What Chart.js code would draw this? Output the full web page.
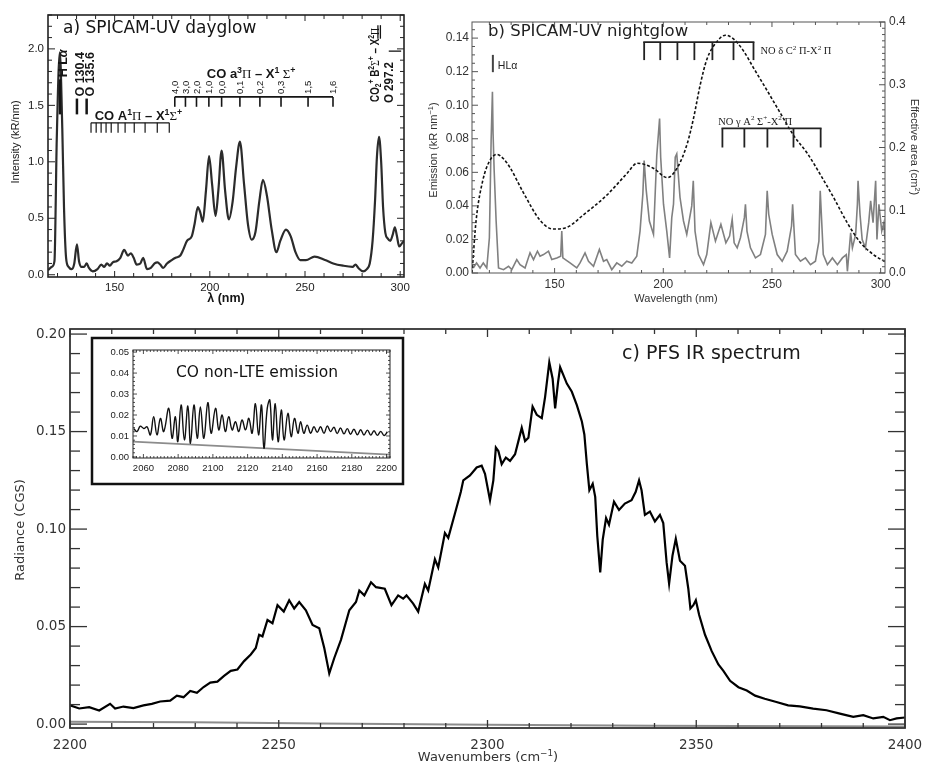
<!DOCTYPE html>
<html>
<head>
<meta charset="utf-8">
<script src="https://cdn.jsdelivr.net/npm/chart.js@4.4.1/dist/chart.umd.min.js"></script>
<style>
  html, body { margin: 0; padding: 0; background: #fff; }
  #wrap { position: relative; width: 927px; height: 768px; overflow: hidden; }
  #wrap canvas { position: absolute; left: 0; top: 0; }
</style>
</head>
<body>
<div id="wrap">
  <canvas id="cvA" width="927" height="768"></canvas>
  <canvas id="cvB" width="927" height="768"></canvas>
  <canvas id="cvC" width="927" height="768"></canvas>
  <canvas id="cvD" width="927" height="768"></canvas>
</div>
<script>
// ---- a) SPICAM-UV dayglow ----
const A_WAVELENGTH = [
  115, 117, 118.4, 119.6, 121.2, 122.5, 123.4, 124.5, 125.8, 127.5,
  128.8, 130.2, 131.3, 132.6, 134, 135.3, 136.5, 138.5, 141, 143,
  144.5, 146, 147.5, 149, 151, 153, 155, 157, 158.5, 160,
  161.6, 163.5, 165, 167, 169, 171, 172.5, 174, 175.5, 177.5,
  180, 182, 184.5, 186, 188, 190.5, 192, 193.7, 195, 196.3,
  198, 199.6, 201.2, 203, 204.5, 206.2, 208, 210, 212, 213.8,
  215.8, 218, 220, 222, 224, 226, 227.9, 230, 232.5, 235,
  237, 240, 242.5, 245, 247.5, 250.5, 255, 260.5, 264.8, 270,
  275, 276.5, 278, 280.5, 282.5, 284, 285.5, 286.8, 287.8, 288.9,
  290, 291, 292.2, 293.5, 294.8, 296, 297.2, 298.2, 299.5, 301,
  302];
const A_INTENSITY = [
  0.04, 0.07, 0.12, 1.2, 1.97, 1.3, 0.6, 0.15, 0.07, 0.05,
  0.1, 0.27, 0.12, 0.07, 0.07, 0.1, 0.06, 0.03, 0.05, 0.09,
  0.07, 0.1, 0.08, 0.11, 0.12, 0.15, 0.22, 0.17, 0.19, 0.15,
  0.09, 0.1, 0.15, 0.05, 0.06, 0.1, 0.11, 0.09, 0.06, 0.1,
  0.13, 0.15, 0.17, 0.22, 0.3, 0.34, 0.45, 0.6, 0.55, 0.47,
  0.75, 1.05, 0.8, 0.52, 0.75, 1.1, 0.75, 0.49, 0.65, 0.95,
  1.18, 0.8, 0.45, 0.31, 0.38, 0.65, 0.84, 0.7, 0.4, 0.2,
  0.3, 0.4, 0.34, 0.2, 0.13, 0.13, 0.16, 0.13, 0.1, 0.08,
  0.07, 0.09, 0.06, 0.03, 0.05, 0.1, 0.3, 0.66, 1.05, 1.22,
  1.0, 0.6, 0.37, 0.32, 0.3, 0.35, 0.42, 0.35, 0.25, 0.28,
  0.3];
const A_X_TICKS = [150, 200, 250, 300];
const A_Y_TICKS = [0, 0.5, 1.0, 1.5, 2.0];
const A_ATOM_LINES = [121.3, 130.2, 135.3];
const A_CO4P_BANDS = [137.6, 140.3, 142.9, 145.5, 148.2, 151.8, 155.5, 160.3, 166, 172.4, 178.7];
const A_COCAM_BANDS = [181.6, 187.2, 193, 199.5, 206.2, 215.8, 226.3, 237.4, 251.6, 264.7];
const A_COCAM_LABELS = ['4,0', '3,0', '2,0', '1,0', '0,0', '0,1', '0,2', '0,3', '1,5', '1,6'];
const A_CO2P_LINES = [288.3, 289.6];

// ---- b) SPICAM-UV nightglow ----
const B_EMIS_WL = [
  112.6, 114.1, 115.7, 117.2, 118.8, 120.0, 120.8, 121.4, 121.7, 122.2,
  123.1, 124.2, 126.5, 128.8, 130.3, 132.6, 134.1, 136.4, 138.7, 140.3,
  142.1, 143.3, 144.9, 147.2, 148.7, 151, 152.8, 153.3, 153.8, 157.1,
  160.2, 161.7, 164, 165.6, 167.9, 170.6, 172.5, 174, 176.3, 178.6,
  180.9, 183.2, 185.5, 187.8, 189.3, 190.6, 191.2, 192.1, 193.6, 195.5,
  197, 198.3, 198.8, 200.1, 201.6, 202.9, 203.9, 204.7, 205.5, 206.2,
  207.7, 209.3, 210.8, 213.1, 213.8, 214.6, 216.2, 218.5, 220, 221.9,
  224, 226.5, 228.8, 230.5, 231.7, 232.6, 234, 235.5, 237.3, 237.8,
  238.5, 240.1, 242.4, 244.7, 247, 247.8, 248.5, 250.1, 252.4, 254.7,
  257, 259.0, 259.5, 260.8, 263.1, 265.4, 267.7, 270, 271.6, 272.2,
  273.6, 275.5, 277.8, 280.1, 282.4, 284.2, 284.7, 286.2, 287, 288.5,
  289.3, 289.6, 290.5, 291.5, 293, 294.5, 295.4, 296.5, 297.7, 298.3,
  299.2, 300.5, 301.5, 302];
const B_EMISSION = [
  0.003, 0.006, 0.003, 0.006, 0.003, 0.021, 0.079, 0.108, 0.083, 0.061,
  0.031, 0.003, 0.002, 0.004, 0.002, 0.008, 0.005, 0.003, 0.012, 0.008,
  0.013, 0.010, 0.011, 0.013, 0.008, 0.009, 0.010, 0.025, 0.009, 0.006,
  0.003, 0.006, 0.012, 0.007, 0.004, 0.014, 0.007, 0.008, 0.002, 0.006,
  0.004, 0.007, 0.006, 0.010, 0.025, 0.047, 0.067, 0.050, 0.031, 0.023,
  0.070, 0.092, 0.069, 0.041, 0.025, 0.009, 0.033, 0.041, 0.069, 0.071,
  0.045, 0.031, 0.023, 0.040, 0.055, 0.025, 0.011, 0.005, 0.011, 0.030,
  0.019, 0.029, 0.018, 0.022, 0.032, 0.018, 0.015, 0.021, 0.033, 0.041,
  0.025, 0.015, 0.009, 0.011, 0.023, 0.049, 0.035, 0.023, 0.011, 0.007,
  0.013, 0.028, 0.041, 0.011, 0.007, 0.009, 0.005, 0.007, 0.019, 0.049,
  0.011, 0.005, 0.009, 0.005, 0.009, 0.011, 0.001, 0.024, 0.015, 0.023,
  0.041, 0.055, 0.035, 0.020, 0.015, 0.030, 0.043, 0.030, 0.055, 0.020,
  0.041, 0.025, 0.030, 0.020];
const B_AREA_WL = [
  112, 113.9, 117, 120, 123.5, 126.5, 129.5, 135.5, 143.3, 149.3,
  155.8, 163, 174, 183.4, 188, 195.4, 201.8, 206.5, 211, 214,
  217, 220, 225, 228.6, 232.3, 236.9, 241.5, 247.9, 254, 260,
  266.4, 272.4, 278.4, 284.8, 290.8, 296.8, 302];
const B_AREA = [
  0.0, 0.084, 0.148, 0.178, 0.189, 0.182, 0.168, 0.129, 0.084, 0.07,
  0.073, 0.092, 0.124, 0.159, 0.175, 0.167, 0.152, 0.168, 0.206, 0.248,
  0.3, 0.34, 0.37, 0.379, 0.373, 0.354, 0.327, 0.29, 0.254, 0.219,
  0.19, 0.156, 0.12, 0.079, 0.048, 0.029, 0.018];
const B_X_TICKS = [150, 200, 250, 300];
const B_Y_TICKS = [0, 0.02, 0.04, 0.06, 0.08, 0.10, 0.12, 0.14];
const B_Y2_TICKS = [0, 0.1, 0.2, 0.3, 0.4];
const B_NO_DELTA = [191.2, 198.6, 206.5, 214.3, 222.6, 232.3, 241.5];
const B_NO_GAMMA = [227.2, 237.3, 247.9, 259.9, 272.4];

// ---- c) PFS IR spectrum ----
const C_WAVENUMBER = [
  2200, 2202.2, 2204.6, 2207, 2209.6, 2210.8, 2212.8, 2215.2, 2217.6, 2219.6,
  2221.6, 2224, 2225.6, 2227.2, 2228.8, 2230.4, 2232, 2233.6, 2235.3, 2236.9,
  2238.5, 2240.1, 2241.7, 2243.3, 2244.5, 2245.3, 2246.1, 2247.3, 2248.5, 2249.7,
  2251.2, 2252.5, 2253.7, 2254.9, 2256.5, 2258.1, 2259.7, 2260.9, 2262.1, 2263.3,
  2264.9, 2266.9, 2268.5, 2269.3, 2270.5, 2272.1, 2273.3, 2275.4, 2277, 2278.6,
  2279.8, 2280.6, 2282.2, 2283.4, 2285, 2285.8, 2287.4, 2288.2, 2289.8, 2290.6,
  2292.2, 2293.6, 2294.2, 2295.8, 2297.4, 2298.6, 2299.4, 2300.6, 2301.4, 2302.0,
  2302.6, 2303.4, 2304.4, 2305.4, 2306.6, 2307.4, 2308.2, 2309.0, 2309.8, 2310.8,
  2311.8, 2313, 2313.8, 2314.8, 2315.6, 2316.2, 2316.9, 2317.4, 2318.2, 2319,
  2320.2, 2321.4, 2322.6, 2323.2, 2323.8, 2324.4, 2325.2, 2325.8, 2326.3, 2327.0,
  2327.6, 2328.4, 2329.1, 2330.3, 2331.5, 2332.9, 2334.5, 2335.5, 2336.3, 2336.9,
  2337.7, 2338.9, 2340.1, 2341.3, 2342.1, 2342.9, 2343.5, 2344.3, 2345.1, 2346.1,
  2347.3, 2348.1, 2348.6, 2349.3, 2349.9, 2350.7, 2352.1, 2353.7, 2355.3, 2356.5,
  2358.1, 2360.1, 2362.1, 2364.1, 2366.4, 2369.2, 2372, 2374.8, 2378, 2381.2,
  2384.4, 2387.6, 2390, 2392.4, 2394.8, 2396.4, 2398, 2400];
const C_RADIANCE = [
  0.0096, 0.0080, 0.0087, 0.0070, 0.0104, 0.0080, 0.0090, 0.0082, 0.0096, 0.0104,
  0.0116, 0.0120, 0.0146, 0.0138, 0.0170, 0.0160, 0.0190, 0.0213, 0.0218, 0.0247,
  0.0273, 0.0280, 0.0323, 0.0357, 0.0390, 0.0458, 0.0450, 0.0534, 0.0517, 0.0610,
  0.0577, 0.0635, 0.0593, 0.0626, 0.0584, 0.0508, 0.0491, 0.0390, 0.0260, 0.0339,
  0.0432, 0.0584, 0.0626, 0.0685, 0.0660, 0.0727, 0.0702, 0.0694, 0.0610, 0.0660,
  0.0643, 0.0660, 0.0618, 0.0577, 0.0719, 0.0685, 0.0845, 0.0803, 0.0980, 0.0955,
  0.1080, 0.1190, 0.1250, 0.1275, 0.1316, 0.1325, 0.1283, 0.1148, 0.1250, 0.1418,
  0.1400, 0.1333, 0.1367, 0.1350, 0.1384, 0.1451, 0.1519, 0.1451, 0.1468, 0.1628,
  0.1586, 0.1569, 0.1678, 0.1855, 0.1771, 0.1619, 0.1754, 0.1830, 0.1788, 0.1746,
  0.1704, 0.1636, 0.1552, 0.1485, 0.1333, 0.1199, 0.1232, 0.1165, 0.0963, 0.0778,
  0.0946, 0.1056, 0.1022, 0.1140, 0.1098, 0.1131, 0.1148, 0.1191, 0.1250, 0.1199,
  0.1073, 0.1090, 0.1039, 0.1073, 0.1031, 0.0829, 0.0720, 0.0863, 0.0950, 0.0838,
  0.0812, 0.0694, 0.0593, 0.0610, 0.0635, 0.0559, 0.0458, 0.0374, 0.0306, 0.0273,
  0.0222, 0.0189, 0.0172, 0.0146, 0.0130, 0.0113, 0.0096, 0.0091, 0.0079, 0.0071,
  0.0054, 0.0037, 0.0046, 0.0029, 0.0037, 0.0020, 0.0029, 0.0034];
const C_REF_WN = [2200, 2230, 2260, 2300, 2340, 2400];
const C_REF_RAD = [0.0012, 0.0009, 0.0003, -0.0003, -0.0008, -0.0012];
const C_X_TICKS = [2200, 2250, 2300, 2350, 2400];
const C_Y_TICKS = [0, 0.05, 0.10, 0.15, 0.20];

// ---- inset: CO non-LTE emission ----
const D_WAVENUMBER = [
  2054.4, 2056.3, 2058.2, 2060.2, 2062.1, 2064.0, 2065.9, 2067.8, 2069.8, 2071.7,
  2074.6, 2076.5, 2078.4, 2079.8, 2081.7, 2083.6, 2085.6, 2087.1, 2089.1, 2091.0,
  2092.8, 2094.8, 2097.1, 2099.0, 2101.5, 2103.4, 2105.3, 2107.2, 2109.1, 2111.1,
  2113.0, 2114.9, 2116.8, 2118.8, 2120.7, 2122.6, 2124.5, 2126.3, 2128.0, 2129.4,
  2131.3, 2132.8, 2134.3, 2135.9, 2137.6, 2139.4, 2141.0, 2143.2, 2145.1, 2147.0,
  2149.0, 2150.5, 2152.4, 2154.3, 2156.3, 2158.2, 2160.1, 2162.0, 2164.0, 2165.9,
  2167.8, 2169.7, 2171.6, 2173.5, 2175.5, 2177.4, 2179.3, 2181.2, 2183.2, 2185.1,
  2187.0, 2189.0, 2190.9, 2192.8, 2194.7, 2196.7, 2198.6, 2200.5];
const D_RADIANCE = [
  0.0136, 0.0121, 0.0147, 0.0136, 0.0144, 0.0105, 0.0192, 0.0105, 0.0184, 0.0121,
  0.0232, 0.0089, 0.0192, 0.0073, 0.0248, 0.0081, 0.0243, 0.0065, 0.0248, 0.0089,
  0.0238, 0.0089, 0.0259, 0.0113, 0.0232, 0.0129, 0.0200, 0.0121, 0.0192, 0.0129,
  0.0168, 0.0121, 0.0176, 0.0129, 0.0184, 0.0113, 0.0254, 0.0105, 0.0248, 0.0041,
  0.0232, 0.0271, 0.0081, 0.0254, 0.0073, 0.0224, 0.0081, 0.0208, 0.0097, 0.0184,
  0.0113, 0.0168, 0.0113, 0.0152, 0.0113, 0.0144, 0.0118, 0.0144, 0.0113, 0.0148,
  0.0121, 0.0142, 0.0112, 0.0138, 0.0110, 0.0135, 0.0108, 0.0132, 0.0106, 0.0130,
  0.0105, 0.0128, 0.0104, 0.0125, 0.0103, 0.0122, 0.0102, 0.0120];
const D_REF_WN = [2054, 2202];
const D_REF_RAD = [0.0073, 0.0011];
const D_X_TICKS = [2060, 2080, 2100, 2120, 2140, 2160, 2180, 2200];
const D_Y_TICKS = [0, 0.01, 0.02, 0.03, 0.04, 0.05];

// ---- helpers ----
const W = 927, H = 768;
const SANS = '"Liberation Sans", Arial, sans-serif';
const SERIF = '"Liberation Serif", "Times New Roman", serif';
const DEJAVU = '"DejaVu Sans", sans-serif';

const xy = (xs, ys) => xs.map((x, i) => ({ x, y: ys[i] }));

function richFont(base, kind) {
  const small = kind === 'sup' || kind === 'sub';
  const size = small ? base.size * 0.68 : base.size;
  const fam = kind === 'serif' ? base.serif : base.family;
  const wt = kind === 'serif' ? 'normal' : base.weight;
  const st = kind === 'ital' ? 'italic ' : '';
  return `${st}${wt} ${size}px ${fam}`;
}

// draws runs of text; base.maxW squeezes the run horizontally if it is too long
function drawRich(ctx, runs, x, y, base, align) {
  let w = 0;
  runs.forEach(([t, k]) => { ctx.font = richFont(base, k); w += ctx.measureText(t).width; });
  const sx = base.maxW && w > base.maxW ? base.maxW / w : 1;
  const ww = w * sx;
  let cx = align === 'center' ? x - ww / 2 : align === 'right' ? x - ww : x;
  ctx.save();
  ctx.translate(cx, y);
  ctx.scale(sx, 1);
  ctx.textAlign = 'left';
  ctx.textBaseline = 'alphabetic';
  let off = 0;
  runs.forEach(([t, k]) => {
    ctx.font = richFont(base, k);
    const dy = k === 'sup' ? -base.size * 0.4 : k === 'sub' ? base.size * 0.2 : 0;
    ctx.fillText(t, off, dy);
    off += ctx.measureText(t).width;
  });
  ctx.restore();
  return ww;
}

// rotated text, dir -1 reads upward from (cx, y0), dir +1 reads downward
function rotRich(ctx, runs, cx, y0, base, dir, align) {
  ctx.save();
  ctx.translate(cx, y0);
  ctx.rotate(dir * Math.PI / 2);
  drawRich(ctx, runs, 0, base.size * 0.36, base, align || 'left');
  ctx.restore();
}

function seg(ctx, x0, y0, x1, y1) {
  ctx.beginPath(); ctx.moveTo(x0, y0); ctx.lineTo(x1, y1); ctx.stroke();
}

function axis(pos, size, min, max, ticks, fmt, font, pad, color) {
  return {
    type: 'linear', position: pos, min, max, fitSize: size,
    grid: { display: false, drawTicks: false },
    border: { display: false },
    afterFit: s => {
      if (s.isHorizontal()) s.height = size; else s.width = size;
      s.paddingLeft = s.paddingRight = s.paddingTop = s.paddingBottom = 0;
    },
    afterBuildTicks: s => { s.ticks = ticks.map(v => ({ value: v })); },
    ticks: { display: ticks.length > 0, callback: v => fmt(v), font, color, padding: pad, autoSkip: false, maxRotation: 0 },
  };
}

// inward tick marks on chosen sides plus the plot frame
const frameTicks = {
  id: 'frameTicks',
  afterDatasetsDraw(chart, args, o) {
    const { ctx, chartArea: a } = chart;
    ctx.save();
    ctx.strokeStyle = o.color;
    ctx.lineWidth = o.tickWidth;
    o.axes.forEach(ax => {
      const s = chart.scales[ax.id];
      const n0 = Math.ceil(s.min / ax.minor - 1e-6), n1 = Math.floor(s.max / ax.minor + 1e-6);
      const per = Math.round(ax.major / ax.minor);
      for (let n = n0; n <= n1; n++) {
        const len = n % per === 0 ? ax.majorLen : ax.minorLen;
        const p = s.getPixelForValue(n * ax.minor);
        ax.sides.forEach(side => {
          if (side === 'b') seg(ctx, p, a.bottom, p, a.bottom - len);
          if (side === 't') seg(ctx, p, a.top, p, a.top + len);
          if (side === 'l') seg(ctx, a.left, p, a.left + len, p);
          if (side === 'r') seg(ctx, a.right, p, a.right - len, p);
        });
      }
    });
    ctx.lineWidth = o.frameWidth;
    ctx.strokeRect(a.left, a.top, a.right - a.left, a.bottom - a.top);
    ctx.restore();
  }
};

function makeChart(id, box, datasets, scales, tickOpts, notes) {
  const used = { left: 0, right: 0, top: 0, bottom: 0 };
  Object.values(scales).forEach(s => { used[s.position] += s.fitSize; });
  return new Chart(document.getElementById(id), {
    type: 'line',
    data: { datasets },
    options: {
      responsive: false, animation: false, devicePixelRatio: 1,
      parsing: false, normalized: true, events: [],
      layout: { padding: {
        left: box.l - used.left, top: box.t - used.top,
        right: W - box.r - used.right, bottom: H - box.b - used.bottom } },
      scales,
      elements: { point: { radius: 0 } },
      plugins: { legend: { display: false }, tooltip: { enabled: false }, frameTicks: tickOpts },
    },
    plugins: [frameTicks, notes],
  });
}

// ---- panel a ----
const notesA = {
  id: 'notesA',
  afterDraw(chart) {
    const { ctx, scales: { x, y } } = chart;
    ctx.save();
    ctx.fillStyle = ctx.strokeStyle = '#151515';
    ctx.font = `17px ${DEJAVU}`;
    ctx.textAlign = 'left'; ctx.textBaseline = 'alphabetic';
    ctx.fillText('a) SPICAM-UV dayglow', 63, 33);

    const bold = { size: 12.5, family: SANS, weight: 'bold', serif: SERIF };
    // atomic lines
    const labels = [[['H L', ''], ['α', 'ital']], [['O 130.4', '']], [['O 135.6', '']]];
    const tops = [1.73, 1.56, 1.56];
    A_ATOM_LINES.forEach((wl, i) => {
      const px = x.getPixelForValue(wl);
      ctx.lineWidth = 2.5;
      seg(ctx, px, y.getPixelForValue(1.42), px, y.getPixelForValue(tops[i]));
      rotRich(ctx, labels[i], px + 3, y.getPixelForValue(tops[i]) - 2, bold, -1);
    });
    // CO fourth positive comb
    ctx.lineWidth = 1.2;
    const cy0 = y.getPixelForValue(1.345), cy1 = y.getPixelForValue(1.257);
    seg(ctx, x.getPixelForValue(A_CO4P_BANDS[0]), cy0, x.getPixelForValue(A_CO4P_BANDS[A_CO4P_BANDS.length - 1]), cy0);
    A_CO4P_BANDS.forEach(wl => { const p = x.getPixelForValue(wl); seg(ctx, p, cy0, p, cy1); });
    drawRich(ctx, [['CO A', ''], ['1', 'sup'], ['Π', 'serif'], [' – X', ''], ['1', 'sup'], ['Σ', 'serif'], ['+', 'sup']],
      x.getPixelForValue(139.5), cy0 - 3, { ...bold, size: 13 }, 'left');
    // CO Cameron comb
    ctx.lineWidth = 1.6;
    const ky0 = y.getPixelForValue(1.575), ky1 = y.getPixelForValue(1.487);
    seg(ctx, x.getPixelForValue(A_COCAM_BANDS[0]), ky0, x.getPixelForValue(A_COCAM_BANDS[A_COCAM_BANDS.length - 1]), ky0);
    const small = { size: 9.5, family: SANS, weight: 'normal', serif: SERIF };
    A_COCAM_BANDS.forEach((wl, i) => {
      const p = x.getPixelForValue(wl);
      seg(ctx, p, ky0, p, ky1);
      rotRich(ctx, [[A_COCAM_LABELS[i], '']], p, ky0 - 3, small, -1);
    });
    drawRich(ctx, [['CO a', ''], ['3', 'sup'], ['Π', 'serif'], [' – X', ''], ['1', 'sup'], [' Σ', 'serif'], ['+', 'sup']],
      x.getPixelForValue(198.4), y.getPixelForValue(1.74), { ...bold, size: 13 }, 'left');
    // CO2+ doublet and OI 297.2
    ctx.lineWidth = 1.3;
    A_CO2P_LINES.forEach(wl => {
      const p = x.getPixelForValue(wl);
      seg(ctx, p, y.getPixelForValue(2.21), p, y.getPixelForValue(2.09));
    });
    rotRich(ctx, [['CO', ''], ['2', 'sub'], ['+', 'sup'], [' B', ''], ['2', 'sup'], ['Σ', 'serif'], ['+', 'sup'], [' – X', ''], ['2', 'sup'], ['Π', 'serif']],
      x.getPixelForValue(286.3), y.getPixelForValue(1.53), { ...bold, maxW: 74 }, -1);
    rotRich(ctx, [['O 297.2', '']], x.getPixelForValue(293.7), y.getPixelForValue(1.52), { ...bold, maxW: 41 }, -1);
    seg(ctx, x.getPixelForValue(294), y.getPixelForValue(1.98), x.getPixelForValue(300.5), y.getPixelForValue(1.98));

    // axis titles
    rotRich(ctx, [['Intensity (kR/nm)', '']], 15, 142, { size: 11, family: SANS, weight: 'normal', serif: SERIF }, -1, 'center');
    drawRich(ctx, [['λ (nm)', '']], (chart.chartArea.left + chart.chartArea.right) / 2, 302,
      { size: 12.5, family: SANS, weight: 'bold', serif: SERIF }, 'center');
    ctx.restore();
  }
};

const fontA = { family: SANS, size: 11.5 };
makeChart('cvA', { l: 48, t: 15, r: 404, b: 277 },
  [{ data: xy(A_WAVELENGTH, A_INTENSITY), borderColor: '#2b2b2b', borderWidth: 2.2, cubicInterpolationMode: 'monotone' }],
  {
    x: axis('bottom', 20, 115, 302, A_X_TICKS, v => String(v), fontA, 4, '#222'),
    y: axis('left', 40, -0.02, 2.3, A_Y_TICKS, v => v.toFixed(1), fontA, 4, '#222'),
  },
  { color: '#222', tickWidth: 1, frameWidth: 1.6, axes: [
    { id: 'x', major: 50, minor: 10, majorLen: 6, minorLen: 4, sides: ['b', 't'] },
    { id: 'y', major: 0.5, minor: 0.1, majorLen: 7, minorLen: 4, sides: ['l', 'r'] },
  ] },
  notesA);

// ---- panel b ----
const notesB = {
  id: 'notesB',
  afterDraw(chart) {
    const { ctx, scales: { x, y } } = chart;
    ctx.save();
    ctx.fillStyle = ctx.strokeStyle = '#222';
    ctx.font = `16.5px ${DEJAVU}`;
    ctx.textAlign = 'left'; ctx.textBaseline = 'alphabetic';
    ctx.fillText('b) SPICAM-UV nightglow', 488, 36);

    // H Lyman alpha marker
    ctx.strokeStyle = '#444';
    ctx.lineWidth = 2;
    const hp = x.getPixelForValue(121.6);
    seg(ctx, hp, y.getPixelForValue(0.130), hp, y.getPixelForValue(0.1197));
    drawRich(ctx, [['HL', ''], ['α', '']], hp + 5, y.getPixelForValue(0.1215),
      { size: 10.5, family: SANS, weight: 'normal', serif: SERIF }, 'left');

    const serif = { size: 10.5, family: SERIF, weight: 'normal', serif: SERIF };
    ctx.strokeStyle = '#222';
    ctx.lineWidth = 1.8;
    const comb = (bands, top, bottom) => {
      const t = y.getPixelForValue(top), b = y.getPixelForValue(bottom);
      seg(ctx, x.getPixelForValue(bands[0]) - 0.9, t, x.getPixelForValue(bands[bands.length - 1]) + 0.9, t);
      bands.forEach(wl => { const p = x.getPixelForValue(wl); seg(ctx, p, t, p, b); });
    };
    comb(B_NO_DELTA, 0.1376, 0.1269);
    drawRich(ctx, [['NO δ C', ''], ['2', 'sup'], [' Π-X', ''], ['2', 'sup'], [' Π', '']],
      x.getPixelForValue(244.7), y.getPixelForValue(0.1305), serif, 'left');
    comb(B_NO_GAMMA, 0.0862, 0.0748);
    drawRich(ctx, [['NO γ A', ''], ['2', 'sup'], [' Σ', ''], ['+', 'sup'], ['-X', ''], ['2', 'sup'], [' Π', '']],
      x.getPixelForValue(225.3), y.getPixelForValue(0.0885), serif, 'left');

    const lab = { size: 11, family: SANS, weight: 'normal', serif: SERIF };
    ctx.fillStyle = '#333';
    rotRich(ctx, [['Emission (kR nm', ''], ['−1', 'sup'], [')', '']], 433, 150, lab, -1, 'center');
    rotRich(ctx, [['Effective area (cm', ''], ['2', 'sup'], [')', '']], 915, 147, lab, 1, 'center');
    drawRich(ctx, [['Wavelength (nm)', '']], 676, 302, lab, 'center');
    ctx.restore();
  }
};

const fontB = { family: SANS, size: 12 };
makeChart('cvB', { l: 472, t: 22, r: 885, b: 273 },
  [
    { data: xy(B_AREA_WL, B_AREA), yAxisID: 'y2', borderColor: '#111', borderWidth: 1.6, borderDash: [3, 2], cubicInterpolationMode: 'monotone' },
    { data: xy(B_EMIS_WL, B_EMISSION), yAxisID: 'y', borderColor: '#808080', borderWidth: 1.6, tension: 0 },
  ],
  {
    x: axis('bottom', 20, 112, 302, B_X_TICKS, v => String(v), fontB, 4, '#333'),
    y: axis('left', 40, 0, 0.1496, B_Y_TICKS, v => v.toFixed(2), fontB, 3, '#333'),
    y2: axis('right', 28, 0, 0.4, B_Y2_TICKS, v => v.toFixed(1), fontB, 4, '#333'),
  },
  { color: '#555', tickWidth: 1, frameWidth: 1, axes: [
    { id: 'x', major: 50, minor: 10, majorLen: 5, minorLen: 3, sides: ['b', 't'] },
    { id: 'y', major: 0.02, minor: 0.005, majorLen: 6, minorLen: 3, sides: ['l'] },
    { id: 'y2', major: 0.1, minor: 0.01, majorLen: 6, minorLen: 3, sides: ['r'] },
  ] },
  notesB);

// ---- panel c ----
const notesC = {
  id: 'notesC',
  afterDraw(chart) {
    const { ctx } = chart;
    ctx.save();
    ctx.fillStyle = '#1a1a1a';
    ctx.font = `19px ${DEJAVU}`;
    ctx.textAlign = 'left'; ctx.textBaseline = 'alphabetic';
    ctx.fillText('c) PFS IR spectrum', 622, 359);
    ctx.fillStyle = '#333';
    const lab = { size: 13, family: DEJAVU, weight: 'normal', serif: SERIF };
    rotRich(ctx, [['Radiance (CGS)', '']], 19, 530, lab, -1, 'center');
    drawRich(ctx, [['Wavenumbers (cm', ''], ['−1', 'sup'], [')', '']], 488, 761, lab, 'center');
    ctx.restore();
  }
};

const fontC = { family: DEJAVU, size: 13.5 };
makeChart('cvC', { l: 70, t: 329, r: 905, b: 728 },
  [
    { data: xy(C_WAVENUMBER, C_RADIANCE), borderColor: '#000', borderWidth: 2.2, tension: 0 },
    { data: xy(C_REF_WN, C_REF_RAD), borderColor: '#8c8c8c', borderWidth: 2, tension: 0 },
  ],
  {
    x: axis('bottom', 28, 2200, 2400, C_X_TICKS, v => String(v), fontC, 9, '#333'),
    y: axis('left', 62, -0.002, 0.2026, C_Y_TICKS, v => v.toFixed(2), fontC, 4, '#333'),
  },
  { color: '#333', tickWidth: 1.3, frameWidth: 1.8, axes: [
    { id: 'x', major: 50, minor: 10, majorLen: 8, minorLen: 5, sides: ['b', 't'] },
    { id: 'y', major: 0.05, minor: 0.01, majorLen: 17, minorLen: 10, sides: ['l', 'r'] },
  ] },
  notesC);

// ---- inset ----
const notesD = {
  id: 'notesD',
  beforeDraw(chart) {
    const { ctx } = chart;
    ctx.save();
    ctx.fillStyle = '#fff';
    ctx.fillRect(92, 338, 311, 146);
    ctx.strokeStyle = '#111';
    ctx.lineWidth = 2.5;
    ctx.strokeRect(92, 338, 311, 146);
    ctx.restore();
  },
  afterDraw(chart) {
    const { ctx } = chart;
    ctx.save();
    ctx.fillStyle = '#111';
    ctx.font = `15.5px ${DEJAVU}`;
    ctx.textAlign = 'left'; ctx.textBaseline = 'alphabetic';
    ctx.fillText('CO non-LTE emission', 176, 377);
    ctx.restore();
  }
};

const fontD = { family: SANS, size: 9.5 };
makeChart('cvD', { l: 133, t: 350, r: 390, b: 458 },
  [
    { data: xy(D_WAVENUMBER, D_RADIANCE), borderColor: '#111', borderWidth: 1.4, tension: 0.4 },
    { data: xy(D_REF_WN, D_REF_RAD), borderColor: '#8c8c8c', borderWidth: 1.8, tension: 0 },
  ],
  {
    x: axis('bottom', 18, 2054, 2202, D_X_TICKS, v => String(v), fontD, 5, '#222'),
    y: axis('left', 30, -0.0005, 0.051, D_Y_TICKS, v => v.toFixed(2), fontD, 4, '#222'),
  },
  { color: '#222', tickWidth: 0.8, frameWidth: 1, axes: [
    { id: 'x', major: 20, minor: 2, majorLen: 4, minorLen: 2, sides: ['b', 't'] },
    { id: 'y', major: 0.01, minor: 0.002, majorLen: 4, minorLen: 2, sides: ['l', 'r'] },
  ] },
  notesD);
</script>
</body>
</html>
